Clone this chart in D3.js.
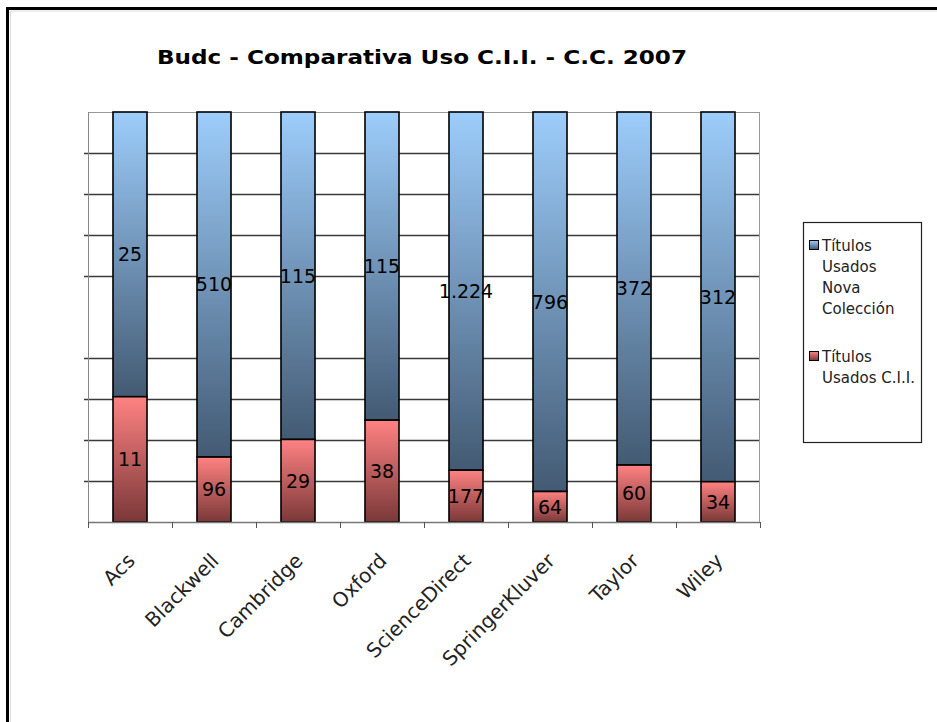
<!DOCTYPE html>
<html><head><meta charset="utf-8">
<script src="https://cdn.jsdelivr.net/npm/d3@7"></script>
<style>body{margin:0;background:#fff}svg{display:block}</style>
</head><body>
<svg id="c" width="937" height="722"></svg>
<script>
const categories = ["Acs","Blackwell","Cambridge","Oxford","ScienceDirect","SpringerKluver","Taylor","Wiley"];
const usadosCII = [11, 96, 29, 38, 177, 64, 60, 34];
const usadosNova = [25, 510, 115, 115, 1224, 796, 372, 312];
const seriesNames = ["Títulos Usados Nova Colección", "Títulos Usados C.I.I."];
const titleText = "Budc - Comparativa Uso C.I.I. - C.C. 2007";

const svg = d3.select("#c");
const FONT = "'DejaVu Sans', Verdana, sans-serif";
const M = {left: 88, right: 760, top: 112, bottom: 522};

// outer frame
svg.append("path").attr("d", "M7.5,722 V8.5 H937").attr("fill","none").attr("stroke","#000").attr("stroke-width",3);
svg.append("path").attr("d", "M10.5,722 V11 H937").attr("fill","none").attr("stroke","#ddd").attr("stroke-width",1);

const defs = svg.append("defs");
function grad(id, c1, c2){
  const g = defs.append("linearGradient").attr("id", id).attr("x1",0).attr("y1",0).attr("x2",0).attr("y2",1);
  g.append("stop").attr("offset","0%").attr("stop-color",c1);
  g.append("stop").attr("offset","100%").attr("stop-color",c2);
}
grad("gBlue", "#9dcdfb", "#435a73");
grad("gRed", "#ff8282", "#7a3838");

const x = d3.scaleBand().domain(categories).range([M.left, M.right]).paddingInner(0.595).paddingOuter(0.2975);
const y = d3.scaleLinear().domain([0,1]).range([M.bottom, M.top]);

// gridlines (no line at 50% in the reference)
const gridVals = d3.range(1, 10).map(i => i/10).filter(v => Math.abs(v-0.5) > 1e-9);
svg.append("g").selectAll("line").data(gridVals).join("line")
  .attr("x1", M.left - 4).attr("x2", M.right)
  .attr("y1", d => Math.round(y(d))+0.5).attr("y2", d => Math.round(y(d))+0.5)
  .attr("stroke", "#3a3a3a").attr("stroke-width", 1.3);

// plot frame top/right
svg.append("line").attr("x1",M.left).attr("x2",M.right).attr("y1",M.top+0.5).attr("y2",M.top+0.5).attr("stroke","#999");
svg.append("line").attr("x1",M.right-0.5).attr("x2",M.right-0.5).attr("y1",M.top).attr("y2",M.bottom).attr("stroke","#999");
// left axis
svg.append("line").attr("x1",M.left+0.5).attr("x2",M.left+0.5).attr("y1",M.top).attr("y2",M.bottom).attr("stroke","#888");

// stacked 100% data
const rows = categories.map((c,i) => {
  const tot = usadosCII[i] + usadosNova[i];
  return {cat: c, cii: usadosCII[i], nova: usadosNova[i], fCii: usadosCII[i]/tot};
});
const fmt = d3.formatLocale({decimal: ",", thousands: ".", grouping: [3], currency: ["", "€"]}).format(",");

const bars = svg.append("g");
rows.forEach(r => {
  const bx = x(r.cat), bw = x.bandwidth();
  bars.append("rect").attr("x", bx).attr("width", bw)
    .attr("y", y(1)).attr("height", y(r.fCii) - y(1))
    .attr("fill", "url(#gBlue)").attr("stroke", "#000").attr("stroke-width", 1.6);
  bars.append("rect").attr("x", bx).attr("width", bw)
    .attr("y", y(r.fCii)).attr("height", y(0) - y(r.fCii))
    .attr("fill", "url(#gRed)").attr("stroke", "#000").attr("stroke-width", 1.6);
  bars.append("text").attr("x", bx + bw/2).attr("y", (y(1) + y(r.fCii))/2)
    .attr("text-anchor","middle").attr("dy","0.36em")
    .style("font-family", FONT).style("font-size","19px").attr("fill","#000").text(fmt(r.nova));
  bars.append("text").attr("x", bx + bw/2).attr("y", (y(r.fCii) + y(0))/2)
    .attr("text-anchor","middle").attr("dy","0.36em")
    .style("font-family", FONT).style("font-size","19px").attr("fill","#000").text(fmt(r.cii));
});

// x axis
const xa = svg.append("g");
xa.append("line").attr("x1",M.left).attr("x2",M.right).attr("y1",M.bottom+0.5).attr("y2",M.bottom+0.5).attr("stroke","#777").attr("stroke-width",1.5);
const bounds = categories.map(c => x(c) - x.step()*x.paddingInner()/2).concat([M.right]);
xa.selectAll("line.t").data(bounds).join("line").attr("class","t")
  .attr("x1", d=>Math.round(d)+0.5).attr("x2", d=>Math.round(d)+0.5)
  .attr("y1", M.bottom).attr("y2", M.bottom+6).attr("stroke","#555");
xa.selectAll("text").data(categories).join("text")
  .attr("transform", d => `translate(${x(d)+x.bandwidth()/2+6},${M.bottom+40}) rotate(-45)`)
  .attr("text-anchor","end")
  .style("font-family", FONT).style("font-size","20px").attr("fill","#222").text(d=>d);

// title
svg.append("text").attr("x", 422).attr("y", 64).attr("text-anchor","middle")
  .attr("textLength", 530).attr("lengthAdjust","spacingAndGlyphs")
  .style("font-family", FONT).style("font-weight","bold").style("font-size","19px").text(titleText);

// legend
const lg = svg.append("g");
lg.append("rect").attr("x",803.5).attr("y",222.5).attr("width",118).attr("height",220)
  .attr("fill","#fff").attr("stroke","#222").attr("stroke-width",1.2);
const legendItems = [
  {lines: ["Títulos","Usados","Nova","Colección"], fill: "url(#gBlue)", y: 246},
  {lines: ["Títulos","Usados C.I.I."], fill: "url(#gRed)", y: 357}
];
legendItems.forEach(it => {
  lg.append("rect").attr("x",809.5).attr("y",it.y-5.5).attr("width",9).attr("height",9)
    .attr("fill", it.fill).attr("stroke","#000").attr("stroke-width",1);
  const t = lg.append("text").style("font-family", FONT).style("font-size","15px").attr("fill","#222");
  it.lines.forEach((ln,i) => {
    t.append("tspan").attr("x", 822).attr("y", it.y + 5 + i*21).text(ln);
  });
});
</script>
</body></html>
